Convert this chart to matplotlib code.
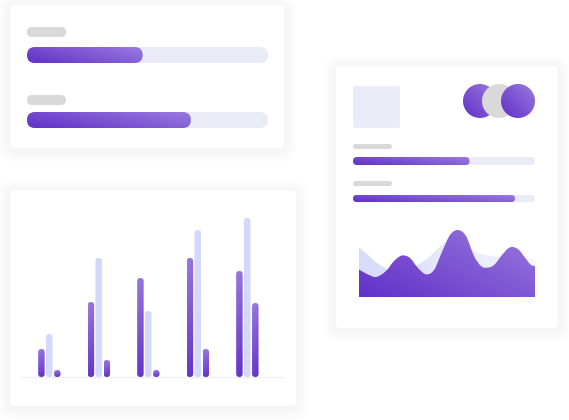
import numpy as np
import matplotlib
matplotlib.use("Agg")
import matplotlib.pyplot as plt
from matplotlib.patches import FancyBboxPatch, Circle, PathPatch
from matplotlib.path import Path
from matplotlib.colors import to_rgb

# ---------------- data ----------------
top_progress = [48, 68]            # % filled, top-left card
right_progress = [64, 89]          # % filled, right card
bar_series_a = [28, 75, 99, 119, 106]   # dark purple bars (left)
bar_series_b = [43, 119, 66, 147, 159]  # lavender bars (middle)
bar_series_c = [7, 17, 7, 28, 74]       # dark purple bars (right)
area_x = [0, 7, 17, 27, 35, 43, 51, 59, 67, 75, 83, 91, 99, 107, 115, 122,
          128, 135, 143, 149, 154, 160, 167, 172, 176]
area_front = [27.5, 23.5, 20, 26, 36, 41.5, 39, 29, 22.7, 27, 45, 62, 67, 61,
              41, 31, 29.3, 32, 42, 48.5, 50, 47, 38, 32, 31]
area_back_x = [0, 8, 16, 26, 36, 46, 58, 69, 79, 88, 96, 104, 116, 136, 156, 169, 176]
area_back = [49.5, 43, 35.5, 29, 26, 27, 32, 39, 48.5, 55.5, 59, 56, 45.5,
             40.5, 39.5, 38.5, 37]

# ---------------- style ----------------
DARK = "#6230c8"
LIGHT = "#9a7ade"
TRACK = "#e9ecf6"
PILL = "#d9d9d9"
LAV = "#d3d7fc"

fig = plt.figure(figsize=(5.69, 4.20), dpi=100)
ax = fig.add_axes([0, 0, 1, 1])
ax.axis("off")


def rrect(x, y, w, h, r, **kw):
    return FancyBboxPatch((x, y), w, h,
                          boxstyle=f"round,pad=0,rounding_size={r}", **kw)


def gradient(patch, bbox, c0, c1, direction=(1, 0.6), z=3):
    x0, y0, x1, y1 = bbox
    n = 64
    u = np.linspace(0, 1, n)[None, :]
    v = np.linspace(1, 0, n)[:, None]
    dx, dy = direction
    t = u * dx + v * dy
    t = (t - t.min()) / (t.max() - t.min())
    a = np.array(to_rgb(c0))
    b = np.array(to_rgb(c1))
    img = a[None, None, :] * (1 - t[..., None]) + b[None, None, :] * t[..., None]
    patch.set_facecolor("none")
    patch.set_edgecolor("none")
    ax.add_patch(patch)
    im = ax.imshow(img, extent=(x0, x1, y1, y0), origin="upper",
                   interpolation="bilinear", zorder=z, aspect="auto")
    im.set_clip_path(patch)


def card(x, y, w, h):
    for k in range(1, 11):
        p = k * 1.3
        ax.add_patch(rrect(x - p, y - p + 2, w + 2 * p, h + 2 * p, 4 + p,
                           fc="k", ec="none", alpha=0.0055, zorder=1))
    ax.add_patch(rrect(x, y, w, h, 4, fc="white", ec="none", zorder=2))


def progress(x, y, w, h, pct):
    ax.add_patch(rrect(x, y, w, h, h / 2, fc=TRACK, ec="none", zorder=3))
    fw = w * pct / 100.0
    gradient(rrect(x, y, fw, h, h / 2), (x, y, x + fw, y + h), DARK, LIGHT,
             direction=(1, 0.5), z=4)


# ---------------- card 1: progress bars ----------------
card(10, 5, 274, 143)
pill_y1 = [27, 95]
track_y1 = [47, 112]
for py, ty, pct in zip(pill_y1, track_y1, top_progress):
    ax.add_patch(rrect(27, py, 39, 10, 5, fc=PILL, ec="none", zorder=3))
    progress(27, ty, 241, 16, pct)

# ---------------- card 2: bar chart ----------------
card(10, 190, 286, 216)
base = 377
ax.plot([22, 284], [base, base], color="#efeff4", lw=1, zorder=3)
bw = 6.5
g0, gs = 49.2, 49.5
offsets = [-7.8, 0.0, 8.1]
for i in range(len(bar_series_a)):
    cx = g0 + i * gs
    for off, vals, kind in zip(offsets, [bar_series_a, bar_series_b, bar_series_c],
                               ["d", "l", "d"]):
        h = vals[i]
        x = cx + off - bw / 2
        y = base - h
        if kind == "l":
            ax.add_patch(rrect(x, y, bw, h, bw / 2, fc=LAV, ec="none", zorder=4))
        else:
            gradient(rrect(x, y, bw, h, bw / 2), (x, y, x + bw, base),
                     DARK, LIGHT, direction=(-0.15, 1), z=4)

# ---------------- card 3: summary ----------------
card(336, 66, 222, 262)
ax.add_patch(rrect(353, 86, 47, 42, 2, fc="#eaedf7", ec="none", zorder=3))
cy, cr = 101, 17
gradient(Circle((480, cy), cr), (480 - cr, cy - cr, 480 + cr, cy + cr),
         DARK, LIGHT, direction=(1, 1), z=4)
ax.add_patch(Circle((499, cy), cr, fc=PILL, ec="none", zorder=5))
gradient(Circle((518, cy), cr), (518 - cr, cy - cr, 518 + cr, cy + cr),
         DARK, LIGHT, direction=(1, 1), z=6)

pill_y3 = [144, 181]
track_y3 = [157, 195]
track_h3 = [8, 7]
for py, ty, th, pct in zip(pill_y3, track_y3, track_h3, right_progress):
    ax.add_patch(rrect(353, py, 39, 5, 2.5, fc=PILL, ec="none", zorder=3))
    progress(353, ty, 182, th, pct)

# area chart
ax0, abase = 359, 297


def area_path(xs, hs):
    pts = np.column_stack([ax0 + np.asarray(xs, float), abase - np.asarray(hs, float)])
    n = len(pts)
    verts = [(pts[0, 0], abase), tuple(pts[0])]
    codes = [Path.MOVETO, Path.LINETO]
    for i in range(n - 1):
        p0 = pts[max(i - 1, 0)]
        p1 = pts[i]
        p2 = pts[i + 1]
        p3 = pts[min(i + 2, n - 1)]
        c1 = p1 + (p2 - p0) / 6.0
        c2 = p2 - (p3 - p1) / 6.0
        verts += [tuple(c1), tuple(c2), tuple(p2)]
        codes += [Path.CURVE4] * 3
    verts += [(pts[-1, 0], abase), (pts[0, 0], abase)]
    codes += [Path.LINETO, Path.CLOSEPOLY]
    return Path(verts, codes)


x_end = ax0 + max(area_x)
gradient(PathPatch(area_path(area_back_x, area_back)),
         (ax0, abase - 70, x_end, abase), "#d6d9fb", "#f6f7fe",
         direction=(1, 0.1), z=4)
gradient(PathPatch(area_path(area_x, area_front)),
         (ax0, abase - 70, x_end, abase), DARK, LIGHT,
         direction=(1, 0.8), z=5)

ax.set_xlim(0, 569)
ax.set_ylim(420, 0)
fig.savefig("out.png", dpi=100, facecolor="white")
